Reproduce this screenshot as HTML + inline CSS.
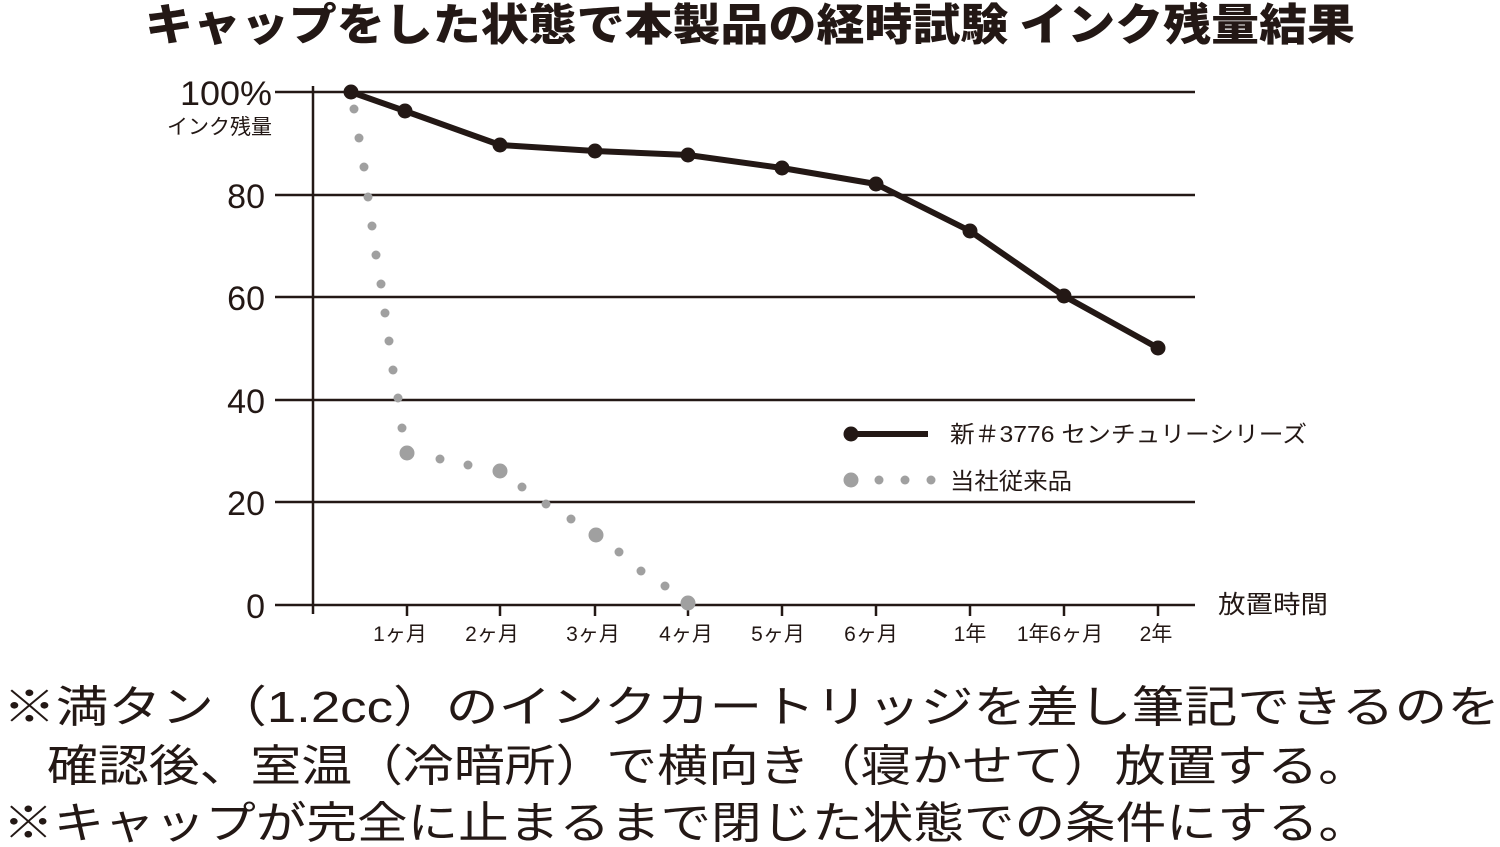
<!DOCTYPE html>
<html><head><meta charset="utf-8"><style>
html,body{margin:0;padding:0;background:#fff;}
svg{display:block;font-family:"Liberation Sans","Noto Sans CJK JP",sans-serif;}
</style></head><body>
<svg width="1500" height="847" viewBox="0 0 1500 847" xmlns="http://www.w3.org/2000/svg">
<text x="145" y="40" textLength="1210" lengthAdjust="spacingAndGlyphs" font-size="44" font-weight="900" fill="#231815" style="font-family:'Noto Sans CJK JP',sans-serif">キャップをした状態で本製品の経時試験 インク残量結果</text>
<g stroke="#231815" stroke-width="2.5">
<line x1="275" y1="92" x2="1195" y2="92"/>
<line x1="275" y1="195" x2="1195" y2="195"/>
<line x1="275" y1="297" x2="1195" y2="297"/>
<line x1="275" y1="400" x2="1195" y2="400"/>
<line x1="275" y1="502" x2="1195" y2="502"/>
<line x1="275" y1="605" x2="1195" y2="605"/>
<line x1="313" y1="86" x2="313" y2="614"/>
<g>
<line x1="407" y1="605" x2="407" y2="616"/><line x1="500" y1="605" x2="500" y2="616"/><line x1="595" y1="605" x2="595" y2="616"/><line x1="688" y1="605" x2="688" y2="616"/><line x1="782" y1="605" x2="782" y2="616"/><line x1="876" y1="605" x2="876" y2="616"/><line x1="970" y1="605" x2="970" y2="616"/><line x1="1064" y1="605" x2="1064" y2="616"/><line x1="1158" y1="605" x2="1158" y2="616"/>
</g></g>
<g fill="#231815" font-size="34" text-anchor="end">
<text x="272" y="105" textLength="92" lengthAdjust="spacingAndGlyphs">100%</text>
<text x="265" y="208">80</text>
<text x="265" y="310">60</text>
<text x="265" y="413">40</text>
<text x="265" y="515">20</text>
<text x="265" y="618">0</text>
</g>
<text x="167" y="134" textLength="105" lengthAdjust="spacingAndGlyphs" font-size="21" fill="#231815">インク残量</text>
<g fill="#231815" font-size="21" text-anchor="middle">
<text x="400" y="641">1ヶ月</text><text x="492" y="641">2ヶ月</text><text x="593" y="641">3ヶ月</text><text x="686" y="641">4ヶ月</text><text x="778" y="641">5ヶ月</text><text x="871" y="641">6ヶ月</text><text x="970" y="641">1年</text><text x="1060" y="641">1年6ヶ月</text><text x="1156" y="641">2年</text>
</g>
<text x="1218" y="613" textLength="110" lengthAdjust="spacingAndGlyphs" font-size="25" fill="#231815">放置時間</text>
<g fill="#a0a0a0">
<circle cx="354" cy="109" r="4.5"/><circle cx="359" cy="138" r="4.5"/><circle cx="364" cy="167" r="4.5"/><circle cx="368" cy="197" r="4.5"/><circle cx="372" cy="226" r="4.5"/><circle cx="376" cy="255" r="4.5"/><circle cx="381" cy="284" r="4.5"/><circle cx="385" cy="313" r="4.5"/><circle cx="389" cy="341" r="4.5"/><circle cx="393" cy="370" r="4.5"/><circle cx="398" cy="398" r="4.5"/><circle cx="402" cy="428" r="4.5"/>
<circle cx="407" cy="453" r="7.5"/><circle cx="440" cy="459" r="4.5"/><circle cx="468" cy="465" r="4.5"/><circle cx="500" cy="471" r="7.5"/><circle cx="522" cy="487" r="4.5"/><circle cx="546" cy="504" r="4.5"/><circle cx="571" cy="519" r="4.5"/><circle cx="596" cy="535" r="7.5"/><circle cx="619" cy="552" r="4.5"/><circle cx="641" cy="571" r="4.5"/><circle cx="665" cy="586" r="4.5"/><circle cx="688" cy="603" r="7.5"/>
<circle cx="851" cy="480" r="7.5"/><circle cx="879" cy="480" r="4.5"/><circle cx="905" cy="480" r="4.5"/><circle cx="931" cy="480" r="4.5"/>
</g>
<polyline points="351,92 405,111 500,145 595,151 688,155 782,168 876,184 970,231 1064,296 1158,348" fill="none" stroke="#231815" stroke-width="6" stroke-linejoin="round"/>
<g fill="#231815">
<circle cx="351" cy="92" r="7.5"/><circle cx="405" cy="111" r="7.5"/><circle cx="500" cy="145" r="7.5"/><circle cx="595" cy="151" r="7.5"/><circle cx="688" cy="155" r="7.5"/><circle cx="782" cy="168" r="7.5"/><circle cx="876" cy="184" r="7.5"/><circle cx="970" cy="231" r="7.5"/><circle cx="1064" cy="296" r="7.5"/><circle cx="1158" cy="348" r="7.5"/>
<circle cx="851" cy="434" r="7.5"/>
</g>
<line x1="851" y1="434" x2="928" y2="434" stroke="#231815" stroke-width="6"/>
<text x="950" y="442" textLength="357" lengthAdjust="spacingAndGlyphs" font-size="23" fill="#231815">新＃3776 センチュリーシリーズ</text>
<text x="950" y="489" textLength="122" lengthAdjust="spacingAndGlyphs" font-size="23" fill="#231815">当社従来品</text>
<g fill="#231815" font-size="44">
<text x="3" y="722" textLength="1497" lengthAdjust="spacingAndGlyphs">※満タン（1.2cc）のインクカートリッジを差し筆記できるのを</text>
<text x="47" y="781" textLength="1322" lengthAdjust="spacingAndGlyphs">確認後、室温（冷暗所）で横向き（寝かせて）放置する。</text>
<text x="3" y="838" textLength="1366" lengthAdjust="spacingAndGlyphs">※キャップが完全に止まるまで閉じた状態での条件にする。</text>
</g>
</svg>
</body></html>
